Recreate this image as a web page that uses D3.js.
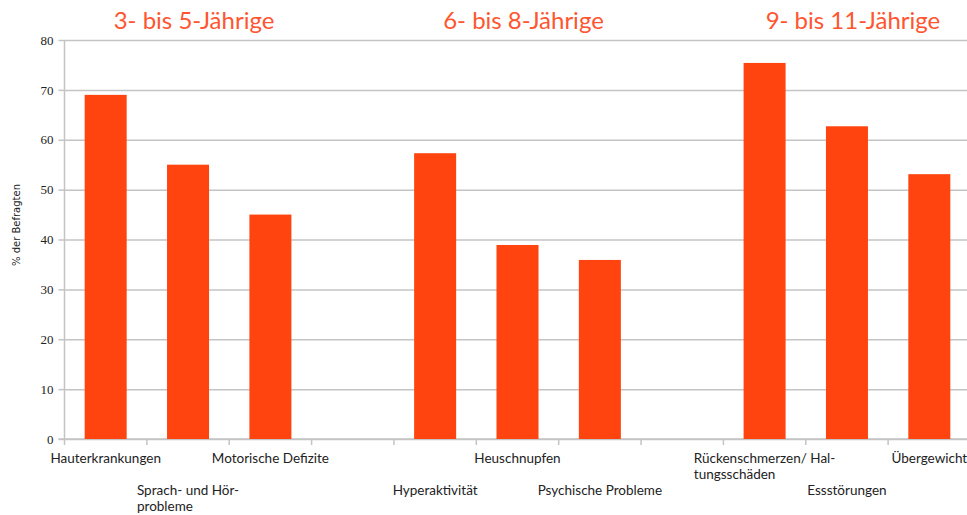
<!DOCTYPE html>
<html lang="de">
<head>
<meta charset="utf-8">
<title>Gesundheitsprobleme nach Altersgruppe</title>
<style>
body { margin: 0; background: #fff; }
.grid line { stroke: #c4c4c4; stroke-width: 1.5; }
.grid path { display: none; }
.axis path, .axis line { stroke: #c4c4c4; stroke-width: 1.5; }
.yaxis text { font-family: "Liberation Serif", serif; font-size: 13px; fill: #222; }
.bar { fill: #ff4410; }
.title { font-family: Lato, sans-serif; font-size: 24px; fill: #ff5530; text-anchor: middle; }
.xlabel { font-family: Lato, sans-serif; font-size: 13.5px; fill: #222; }
.ytitle { font-family: "DejaVu Sans", sans-serif; font-size: 10px; fill: #222; }
</style>
</head>
<body>
<script src="https://d3js.org/d3.v7.min.js"></script>
<script>
// slots incl. two empty spacer columns between the age groups
var categories = ["Hauterkrankungen", "Sprach- und Hör-\nprobleme", "Motorische Defizite", "",
  "Hyperaktivität", "Heuschnupfen", "Psychische Probleme", "",
  "Rückenschmerzen/ Hal-\ntungsschäden", "Essstörungen", "Übergewicht"];
var values = [69, 55, 45, null, 57.3, 38.9, 35.9, null, 75.4, 62.7, 53.1];
var groupTitles = ["3- bis 5-Jährige", "6- bis 8-Jährige", "9- bis 11-Jährige"];
var groupCenters = [1, 5, 9]; // category index each title sits over
var yTicks = [0, 10, 20, 30, 40, 50, 60, 70, 80];

var W = 967, H = 515;
var svg = d3.select("body").append("svg").attr("width", W).attr("height", H);

var plot = {left: 64.5, right: 970.5, top: 40, bottom: 439};

var x = d3.scaleBand().domain(d3.range(categories.length)).range([plot.left, plot.right]).padding(0);
var y = d3.scaleLinear().domain([0, 80]).range([plot.bottom, plot.top]);

// gridlines
svg.append("g").attr("class", "grid")
  .attr("transform", "translate(" + plot.left + ",0)")
  .call(d3.axisLeft(y).tickValues(yTicks).tickSize(-(plot.right - plot.left)).tickFormat(""));

// y axis
var ya = svg.append("g").attr("class", "axis yaxis")
  .attr("transform", "translate(" + plot.left + ",0)")
  .call(d3.axisLeft(y).tickValues(yTicks).tickSize(6).tickPadding(5).tickSizeOuter(0));
ya.select(".domain").attr("d", "M0," + plot.top + "V" + (plot.bottom + 6));

// x axis ticks on slot boundaries
var bounds = d3.range(1, categories.length + 1).map(function(i) { return plot.left + i * x.bandwidth(); });
var xa = svg.append("g").attr("class", "axis");
xa.append("line").attr("x1", plot.left - 6).attr("x2", plot.right).attr("y1", plot.bottom).attr("y2", plot.bottom);
xa.selectAll(".tk").data(bounds).enter().append("line")
  .attr("x1", function(d) { return d; }).attr("x2", function(d) { return d; })
  .attr("y1", plot.bottom).attr("y2", plot.bottom + 6);

// bars
var bw = x.bandwidth() * 0.51;
svg.selectAll(".bar")
  .data(values.map(function(v, i) { return {i: i, v: v}; }).filter(function(d) { return d.v != null; }))
  .enter().append("rect")
  .attr("class", "bar")
  .attr("x", function(d) { return x(d.i) + (x.bandwidth() - bw) / 2; })
  .attr("y", function(d) { return y(d.v); })
  .attr("width", bw)
  .attr("height", function(d) { return y(0) - y(d.v); });

// category labels, staggered over the non-empty ones
var row = 0;
categories.forEach(function(c, i) {
  if (!c) return;
  var lines = c.split("\n");
  var baseY = row % 2 === 0 ? 463 : 495;
  row++;
  var t = svg.append("text").attr("class", "xlabel").attr("y", baseY);
  lines.forEach(function(l, k) {
    t.append("tspan").attr("x", 0).attr("dy", k === 0 ? 0 : 16).text(l);
  });
  var cx = x(i) + x.bandwidth() / 2;
  var firstW = t.select("tspan").node().getComputedTextLength();
  t.attr("transform", "translate(" + (cx - firstW / 2) + ",0)");
});

// group titles
svg.selectAll(".title").data(groupTitles).enter().append("text")
  .attr("class", "title")
  .attr("x", function(d, i) { return x(groupCenters[i]) + x.bandwidth() / 2 + 6; })
  .attr("y", 29)
  .text(function(d) { return d; });

// y axis title
svg.append("text").attr("class", "ytitle")
  .attr("transform", "translate(20,225) rotate(-90)")
  .attr("text-anchor", "middle")
  .text("% der Befragten");
</script>
</body>
</html>
